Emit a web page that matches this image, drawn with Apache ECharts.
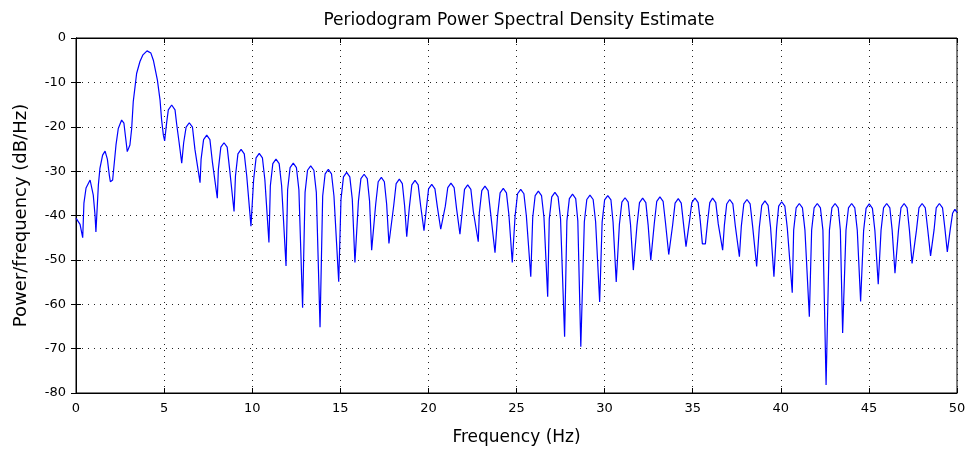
<!DOCTYPE html>
<html>
<head>
<meta charset="utf-8">
<script src="https://cdn.jsdelivr.net/npm/echarts@6/dist/echarts.min.js"></script>
<style>html,body{margin:0;padding:0;background:#fff}#c{width:969px;height:451px}</style>
</head>
<body>
<div id="c"></div>
<script>
// Frequencies (Hz)
const freqHz = [
  0, 0.23, 0.38, 0.45, 0.57, 0.8, 0.98, 1.08, 1.13, 1.27, 1.36, 1.51, 1.65, 1.78, 1.89, 1.95,
  2.08, 2.27, 2.4, 2.59, 2.72, 2.82, 2.91, 3.06, 3.16, 3.25, 3.35, 3.44, 3.63, 3.8, 4.03, 4.25, 4.39,
  4.62, 4.77, 4.86, 4.96, 5.03, 5.15, 5.24, 5.43, 5.62, 5.72, 5.85, 6.0,
  6.11, 6.25, 6.43, 6.61, 6.75, 7.04,
  7.10, 7.24, 7.42, 7.60, 7.74, 8.02,
  8.08, 8.22, 8.4, 8.58, 8.72, 8.97,
  9.05, 9.19, 9.37, 9.55, 9.69, 9.93,
  10.08, 10.22, 10.4, 10.58, 10.72, 10.95,
  11.03, 11.17, 11.35, 11.53, 11.67, 11.92,
  12.01, 12.15, 12.33, 12.51, 12.65, 12.86,
  13.0, 13.14, 13.32, 13.5, 13.64, 13.85,
  14.0, 14.14, 14.32, 14.5, 14.64, 14.91,
  15.04, 15.18, 15.36, 15.54, 15.68, 15.83,
  16.03, 16.17, 16.35, 16.53, 16.66, 16.78,
  17.01, 17.15, 17.33, 17.5, 17.63, 17.76,
  18.03, 18.17, 18.35, 18.52, 18.65, 18.77,
  18.92, 19.06, 19.24, 19.42, 19.56, 19.75,
  19.89, 20.01, 20.19, 20.37, 20.51, 20.70,
  20.96, 21.1, 21.28, 21.46, 21.6, 21.79,
  21.93, 22.05, 22.23, 22.41, 22.55, 22.83,
  22.89, 23.03, 23.21, 23.39, 23.53, 23.78,
  23.93, 24.07, 24.25, 24.43, 24.57, 24.76,
  24.92, 25.06, 25.24, 25.42, 25.56, 25.81,
  25.92, 26.06, 26.24, 26.42, 26.56, 26.77,
  26.86, 27.0, 27.18, 27.36, 27.5, 27.73,
  27.86, 28.0, 28.18, 28.36, 28.48, 28.65,
  28.85, 28.99, 29.17, 29.35, 29.49, 29.72,
  29.86, 30.0, 30.18, 30.36, 30.48, 30.66,
  30.84, 30.98, 31.16, 31.34, 31.47, 31.63,
  31.84, 31.98, 32.16, 32.34, 32.47, 32.62,
  32.82, 32.96, 33.14, 33.32, 33.46, 33.64,
  33.86, 34.0, 34.18, 34.35, 34.47, 34.62,
  34.81, 34.95, 35.13, 35.31, 35.43, 35.55, 35.72,
  35.85, 35.97, 36.13, 36.31, 36.45, 36.7,
  36.8, 36.93, 37.1, 37.28, 37.42, 37.65,
  37.76, 37.9, 38.08, 38.26, 38.4, 38.63,
  38.78, 38.92, 39.1, 39.28, 39.42, 39.61,
  39.76, 39.88, 40.05, 40.23, 40.37, 40.65,
  40.73, 40.87, 41.05, 41.23, 41.37, 41.62,
  41.75, 41.89, 42.07, 42.25, 42.39, 42.57,
  42.76, 42.9, 43.08, 43.26, 43.38, 43.51,
  43.7, 43.84, 44.02, 44.2, 44.34, 44.53,
  44.7, 44.84, 45.02, 45.2, 45.34, 45.53,
  45.69, 45.83, 46.01, 46.19, 46.32, 46.48,
  46.68, 46.82, 47.0, 47.17, 47.3, 47.45,
  47.7, 47.84, 48.02, 48.2, 48.34, 48.5,
  48.7, 48.82, 49.0, 49.18, 49.31, 49.45,
  49.62, 49.75, 49.88, 50
];
// Power/frequency (dB/Hz)
const powerDb = [
  -40.6, -42, -45, -37.2, -33.8, -32, -35.4, -39.9, -43.7, -33.1, -29.3, -26.4, -25.5, -27.3, -30.9, -32.4,
  -32, -24.1, -20.4, -18.5, -19.2, -22.6, -25.6, -24.1, -20.4, -14.3, -11, -8, -5.3, -3.8, -2.9, -3.4, -5,
  -9.5, -14, -18.5, -21.9, -23.2, -18.9, -16.2, -15.1, -16.2, -19.6, -23.5, -28.2,
  -23.6, -20.1, -19.1, -20.1, -25.1, -32.6,
  -27.3, -22.9, -21.9, -22.9, -27.9, -36.1,
  -29.6, -24.6, -23.6, -24.6, -29.6, -39.1,
  -31.1, -26.1, -25.1, -26.1, -31.1, -42.4,
  -32, -27, -26, -27, -32, -46.1,
  -33.3, -28.3, -27.3, -28.3, -33.3, -51.4,
  -34.2, -29.2, -28.2, -29.2, -34.2, -60.8,
  -34.8, -29.8, -28.8, -29.8, -34.8, -65.2,
  -35.6, -30.6, -29.6, -30.6, -35.6, -54.9,
  -36.3, -31.3, -30.3, -31.3, -36.3, -50.6,
  -36.7, -31.7, -30.7, -31.7, -36.7, -47.8,
  -37.4, -32.4, -31.4, -32.4, -37.4, -46.3,
  -37.8, -32.8, -31.8, -32.8, -37.8, -44.8,
  -38.1, -33.1, -32.1, -33.1, -37.8, -43.4,
  -38.2, -34, -33, -34, -38.1, -43.1,
  -37.9, -33.7, -32.7, -33.7, -38.5, -44.2,
  -38.7, -34.1, -33.1, -34.1, -39.1, -45.9,
  -39.4, -34.4, -33.4, -34.4, -39.4, -48.4,
  -39.9, -34.9, -33.9, -34.9, -39.9, -50.6,
  -40.1, -35.1, -34.1, -35.1, -40.1, -53.8,
  -40.5, -35.5, -34.5, -35.5, -40.5, -58.3,
  -40.8, -35.8, -34.8, -35.8, -40.8, -67.3,
  -41.2, -36.2, -35.2, -36.2, -41.2, -69.6,
  -41.4, -36.4, -35.4, -36.4, -41.4, -59.5,
  -41.5, -36.5, -35.5, -36.5, -41.5, -55,
  -42, -37, -36, -37, -42, -52.3,
  -42.1, -37.1, -36.1, -37.1, -42.1, -50.1,
  -41.8, -36.8, -35.8, -36.8, -41.8, -48.8,
  -42.2, -37.2, -36.2, -37.2, -41.6, -47,
  -41.5, -37.1, -36.1, -37.1, -41.2, -46.4, -46.4,
  -41.2, -37.1, -36.1, -37.1, -41.9, -47.8,
  -42.1, -37.4, -36.4, -37.4, -42.4, -49.3,
  -42.4, -37.4, -36.4, -37.4, -42.4, -51.5,
  -42.7, -37.7, -36.7, -37.7, -42.7, -53.8,
  -42.9, -37.9, -36.9, -37.9, -42.9, -57.4,
  -43.3, -38.3, -37.3, -38.3, -43.3, -62.8,
  -43.3, -38.3, -37.3, -38.3, -43.3, -78.2,
  -43.3, -38.3, -37.3, -38.3, -43.3, -66.5,
  -43.3, -38.3, -37.3, -38.3, -43.3, -59.4,
  -43.4, -38.4, -37.4, -38.4, -43.4, -55.5,
  -43.3, -38.3, -37.3, -38.3, -43.3, -53,
  -43.3, -38.3, -37.3, -38.3, -43.3, -50.8,
  -43.3, -38.3, -37.3, -38.3, -43.2, -49.1,
  -43.2, -38.3, -37.3, -38.3, -42.8, -48.2,
  -43, -39.5, -38.6, -39.3
];
const xTicks = [0, 5, 10, 15, 20, 25, 30, 35, 40, 45, 50];
const yTicks = [-80, -70, -60, -50, -40, -30, -20, -10, 0];

const chart = echarts.init(document.getElementById('c'), null, {renderer: 'canvas'});
const FONT = 'DejaVu Sans, Liberation Sans, sans-serif';
const gridDots = {show: true, lineStyle: {color: '#222', width: 1, type: [1, 5]}};
chart.setOption({
  animation: false,
  backgroundColor: '#fff',
  title: {
    text: 'Periodogram Power Spectral Density Estimate',
    left: 514, top: 7, textAlign: 'center',
    textStyle: {fontFamily: FONT, fontSize: 17, fontWeight: 'normal', color: '#000'}
  },
  grid: {left: 76, right: 12, top: 38, bottom: 58, show: true, borderColor: '#000', borderWidth: 1},
  xAxis: [{
    type: 'value', min: xTicks[0], max: xTicks[xTicks.length - 1], interval: 5,
    name: 'Frequency (Hz)', nameLocation: 'middle', nameGap: 36,
    nameTextStyle: {fontFamily: FONT, fontSize: 17, color: '#000'},
    axisLine: {show: true, onZero: false, lineStyle: {color: '#000', width: 1}},
    axisTick: {show: true, inside: true, length: 5, lineStyle: {color: '#000'}},
    axisLabel: {fontFamily: FONT, fontSize: 13, color: '#000', margin: 9},
    splitLine: gridDots
  }, {
    type: 'value', min: xTicks[0], max: xTicks[xTicks.length - 1], interval: 5, position: 'top',
    axisLine: {show: true, lineStyle: {color: '#000'}},
    axisTick: {show: true, inside: true, length: 5, lineStyle: {color: '#000'}},
    axisLabel: {show: false}, splitLine: {show: false}
  }],
  yAxis: [{
    type: 'value', min: yTicks[0], max: yTicks[yTicks.length - 1], interval: 10,
    name: 'Power/frequency (dB/Hz)', nameLocation: 'middle', nameGap: 46,
    nameTextStyle: {fontFamily: FONT, fontSize: 18, color: '#000'},
    axisLine: {show: true, onZero: false, lineStyle: {color: '#000', width: 1}},
    axisTick: {show: true, inside: true, length: 5, lineStyle: {color: '#000'}},
    axisLabel: {fontFamily: FONT, fontSize: 13, color: '#000', margin: 10},
    splitLine: gridDots
  }, {
    type: 'value', min: yTicks[0], max: yTicks[yTicks.length - 1], interval: 10, position: 'right',
    axisLine: {show: true, lineStyle: {color: '#000'}},
    axisTick: {show: true, inside: true, length: 5, lineStyle: {color: '#000'}},
    axisLabel: {show: false}, splitLine: {show: false}
  }],
  series: [{
    type: 'line',
    data: freqHz.map((f, i) => [f, powerDb[i]]),
    showSymbol: false,
    lineStyle: {color: '#0000ff', width: 1.2},
    itemStyle: {color: '#0000ff'}
  }]
});
</script>
</body>
</html>
